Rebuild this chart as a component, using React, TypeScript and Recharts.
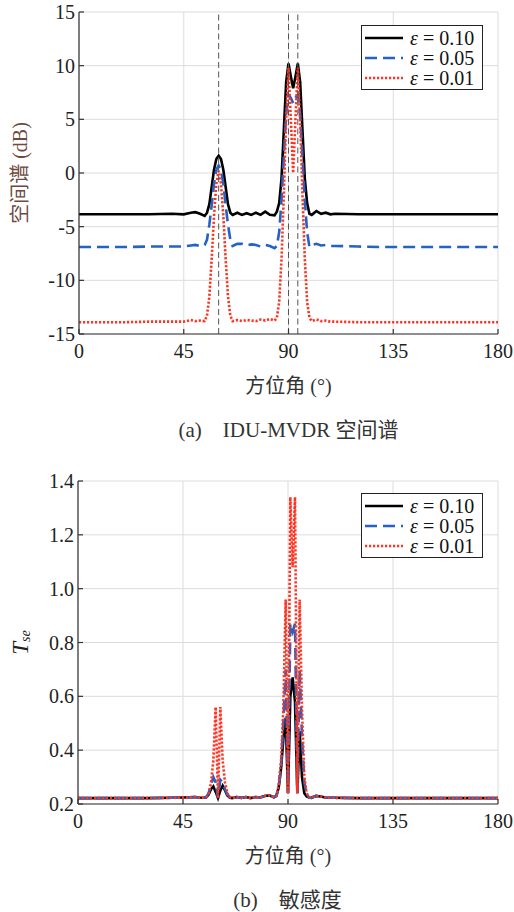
import { LineChart, Line, XAxis, YAxis, CartesianGrid, ReferenceLine, Legend } from 'recharts';

// azimuth sample points (deg), shared by every curve
const angles = [
  0, 10, 20, 30, 40,
  45, 48, 50, 52, 54,
  55, 56, 57, 58, 59, 60, 61, 62, 63, 64, 65, 66,
  68, 70, 72, 74, 76, 78, 80, 82, 84,
  85, 86, 87, 88, 89, 90, 91, 92, 93, 94, 95, 96, 97, 98, 99, 100,
  102, 104, 106, 108, 110,
  120, 130, 140, 150, 160, 170, 180,
];

// (a) spatial spectrum, dB
const specE10 = [
  -3.85, -3.85, -3.85, -3.85, -3.8,
  -3.85, -3.7, -3.65, -3.8, -4.0,
  -3.7, -2.9, -1.3, 0.3, 1.3, 1.6, 1.3, 0.3, -1.3, -2.9, -3.7, -3.9,
  -3.7, -3.9, -3.75, -3.9, -3.7, -3.9, -3.6, -3.9, -3.95,
  -3.6, -2.8, -0.5, 4, 8.5, 10.2, 9, 7.9, 9, 10.2, 8.5, 4, -0.5, -2.8, -3.8, -3.9,
  -3.55, -3.8, -3.7, -3.85, -3.8,
  -3.85, -3.85, -3.85, -3.85, -3.85, -3.85, -3.85,
];
const specE05 = [
  -6.9, -6.9, -6.9, -6.85, -6.85,
  -6.85, -6.75, -6.7, -6.8, -6.7,
  -6.2, -4.8, -3, -1, 0.3, 0.7, 0.3, -1, -3, -4.8, -6.2, -6.8,
  -6.6, -6.6, -6.75, -6.65, -6.7, -6.85, -6.7, -6.8, -7.0,
  -6.8, -5.5, -2.5, 1.5, 5.5, 7.3, 7, 6.5, 7, 7.3, 5.5, 1.5, -2.5, -5.5, -6.9, -6.7,
  -6.6, -6.75, -6.7, -6.8, -6.8,
  -6.85, -6.9, -6.9, -6.9, -6.9, -6.9, -6.9,
];
const specE01 = [
  -13.9, -13.9, -13.9, -13.85, -13.85,
  -13.85, -13.7, -13.8, -13.75, -13.8,
  -13.3, -11.5, -8, -4, -1, 0.2, -1, -4, -8, -11.5, -13.3, -13.8,
  -13.7, -13.8, -13.7, -13.75, -13.8, -13.65, -13.75, -13.6, -13.75,
  -13.5, -12, -8, -2, 5, 9.8, 5, 0, 5, 9.8, 5, -2, -8, -12, -13.5, -13.8,
  -13.65, -13.8, -13.75, -13.85, -13.85,
  -13.9, -13.9, -13.9, -13.9, -13.9, -13.9, -13.9,
];

// (b) sensitivity T_se
const sensE10 = [
  0.222, 0.222, 0.222, 0.222, 0.223,
  0.224, 0.225, 0.226, 0.224, 0.223,
  0.225, 0.235, 0.255, 0.265, 0.245, 0.222, 0.25, 0.268, 0.25, 0.232, 0.224, 0.222,
  0.226, 0.223, 0.226, 0.222, 0.226, 0.224, 0.23, 0.232, 0.225,
  0.23, 0.26, 0.33, 0.44, 0.52, 0.24, 0.6, 0.67, 0.58, 0.24, 0.47, 0.3, 0.24, 0.228, 0.224, 0.223,
  0.23, 0.228, 0.224, 0.223, 0.223,
  0.222, 0.222, 0.222, 0.222, 0.222, 0.222, 0.222,
];
const sensE05 = [
  0.222, 0.222, 0.222, 0.222, 0.223,
  0.224, 0.225, 0.226, 0.224, 0.223,
  0.226, 0.24, 0.27, 0.3, 0.28, 0.222, 0.29, 0.28, 0.255, 0.235, 0.226, 0.222,
  0.226, 0.223, 0.226, 0.222, 0.226, 0.224, 0.23, 0.232, 0.225,
  0.23, 0.26, 0.34, 0.5, 0.7, 0.24, 0.87, 0.84, 0.87, 0.24, 0.7, 0.45, 0.28, 0.235, 0.225, 0.223,
  0.23, 0.228, 0.224, 0.223, 0.223,
  0.222, 0.222, 0.222, 0.222, 0.222, 0.222, 0.222,
];
const sensE01 = [
  0.222, 0.222, 0.222, 0.222, 0.223,
  0.224, 0.225, 0.226, 0.224, 0.223,
  0.226, 0.24, 0.28, 0.36, 0.56, 0.222, 0.56, 0.36, 0.28, 0.24, 0.226, 0.222,
  0.226, 0.223, 0.226, 0.222, 0.226, 0.224, 0.23, 0.232, 0.225,
  0.23, 0.27, 0.36, 0.55, 0.96, 0.24, 1.34, 1.08, 1.34, 0.24, 0.96, 0.55, 0.3, 0.24, 0.226, 0.223,
  0.23, 0.228, 0.224, 0.223, 0.223,
  0.222, 0.222, 0.222, 0.222, 0.222, 0.222, 0.222,
];

const epsLabels = ['0.10', '0.05', '0.01'];
const sourceAngles = [60, 90, 94];
const xTicks = [0, 45, 90, 135, 180];
const specTicks = [-15, -10, -5, 0, 5, 10, 15];
const sensTicks = [0.2, 0.4, 0.6, 0.8, 1.0, 1.2, 1.4];

const SERIF = '"Liberation Serif", "Noto Sans CJK SC"';
const AXIS = '#333';
const GRID = '#dcdcdc';

const lineStyles = [
  { key: 'e10', color: '#000000', width: 2.6, dash: undefined },
  { key: 'e05', color: '#2462c4', width: 2.6, dash: '12 6' },
  { key: 'e01', color: '#ff3322', width: 2.6, dash: '2.2 1.8' },
];

const spectrumRows = angles.map((a, i) => ({ angle: a, e10: specE10[i], e05: specE05[i], e01: specE01[i] }));
const sensRows = angles.map((a, i) => ({ angle: a, e10: sensE10[i], e05: sensE05[i], e01: sensE01[i] }));

function EpsLegend() {
  return (
    <div
      style={{
        width: 122,
        height: 65,
        boxSizing: 'border-box',
        border: '1.2px solid #222',
        background: '#fff',
        fontFamily: SERIF,
        fontSize: 20,
        color: '#111',
        padding: '2px 0 0 3px',
      }}
    >
      {lineStyles.map((s, i) => (
        <div key={s.key} style={{ display: 'flex', alignItems: 'center', height: 20 }}>
          <svg width={38} height={8}>
            <line x1={0} y1={4} x2={38} y2={4} stroke={s.color} strokeWidth={s.width} strokeDasharray={s.dash} />
          </svg>
          <span style={{ marginLeft: 7, whiteSpace: 'nowrap', lineHeight: '19px' }}>
            <i>ε</i> = {epsLabels[i]}
          </span>
        </div>
      ))}
    </div>
  );
}

const SpecLabel = (props: any) => {
  const { viewBox } = props;
  const cx = viewBox.x + 20;
  const cy = viewBox.y + viewBox.height / 2;
  return (
    <text
      transform={`translate(${cx},${cy}) rotate(-90)`}
      textAnchor="middle"
      dominantBaseline="central"
      fontFamily={SERIF}
      fontSize={20}
      fill="#6e4a3e"
    >
      空间谱 (dB)
    </text>
  );
};

const TseLabel = (props: any) => {
  const { viewBox } = props;
  const cx = viewBox.x + 20;
  const cy = viewBox.y + viewBox.height / 2;
  return (
    <text
      transform={`translate(${cx},${cy}) rotate(-90)`}
      textAnchor="middle"
      dominantBaseline="central"
      fontFamily={SERIF}
      fontSize={23}
      fill="#222"
    >
      <tspan fontStyle="italic">T</tspan>
      <tspan fontStyle="italic" fontSize={14} dy={5}>se</tspan>
    </text>
  );
};

type PanelProps = {
  rows: any[];
  yDomain: [number, number];
  yTicks: number[];
  yFormat?: (v: number) => string;
  yLabel: any;
  height: number;
  top: number;
  yAxisWidth: number;
  legendTop: number;
  refs?: number[];
};

function Panel({ rows, yDomain, yTicks, yFormat, yLabel, height, top, yAxisWidth, legendTop, refs }: PanelProps) {
  const tickStyle = { fill: '#222', fontSize: 20, fontFamily: SERIF };
  return (
    <LineChart width={514} height={height} data={rows} margin={{ top, right: 16, bottom: 0, left: 0 }}>
      <CartesianGrid stroke={GRID} strokeWidth={1} />
      <XAxis
        dataKey="angle"
        type="number"
        domain={[0, 180]}
        ticks={xTicks}
        height={66}
        stroke={AXIS}
        strokeWidth={1.2}
        tickSize={-5}
        tickMargin={15}
        tick={tickStyle}
        allowDataOverflow
        label={{ value: '方位角 (°)', position: 'insideBottom', offset: 7, fill: '#333', fontSize: 20, fontFamily: SERIF }}
      />
      <YAxis
        type="number"
        domain={yDomain}
        ticks={yTicks}
        width={yAxisWidth}
        stroke={AXIS}
        strokeWidth={1.2}
        tickSize={-5}
        tickMargin={9}
        tick={tickStyle}
        tickFormatter={yFormat}
        allowDataOverflow
        label={yLabel}
      />
      <XAxis
        xAxisId="top"
        orientation="top"
        type="number"
        domain={[0, 180]}
        ticks={xTicks}
        height={0}
        stroke={AXIS}
        strokeWidth={1.2}
        tickSize={-5}
        tick={false}
        allowDataOverflow
      />
      <YAxis
        yAxisId="right"
        orientation="right"
        type="number"
        domain={yDomain}
        ticks={yTicks}
        width={0}
        stroke={AXIS}
        strokeWidth={1.2}
        tickSize={-5}
        tick={false}
        allowDataOverflow
      />
      {lineStyles.map((s) => (
        <Line
          key={s.key}
          dataKey={s.key}
          type="linear"
          stroke={s.color}
          strokeWidth={s.width}
          strokeDasharray={s.dash}
          dot={false}
          activeDot={false}
          isAnimationActive={false}
        />
      ))}
      {(refs || []).map((a) => (
        <ReferenceLine key={a} x={a} stroke="#555" strokeWidth={1} strokeDasharray="6 3.5" />
      ))}
      <Legend
        layout="vertical"
        verticalAlign="middle"
        align="center"
        wrapperStyle={{ left: 361, top: legendTop, width: 122, height: 65 }}
        content={() => <EpsLegend />}
      />
    </LineChart>
  );
}

const captionStyle: any = {
  position: 'absolute',
  left: 79,
  width: 419,
  textAlign: 'center',
  fontFamily: SERIF,
  fontSize: 21,
  lineHeight: '24px',
  color: '#333',
  whiteSpace: 'pre',
};

export default function App() {
  return (
    <div style={{ position: 'absolute', left: 0, top: 0, width: 514, height: 912, background: '#fff', overflow: 'hidden' }}>
      <div style={{ position: 'absolute', left: 0, top: 0 }}>
        <Panel
          rows={spectrumRows}
          yDomain={[-15, 15]}
          yTicks={specTicks}
          yLabel={<SpecLabel />}
          height={400}
          top={12}
          yAxisWidth={79}
          legendTop={25}
          refs={sourceAngles}
        />
      </div>
      <div style={{ ...captionStyle, top: 418 }}>(a){'\u2003'}IDU-MVDR 空间谱</div>
      <div style={{ position: 'absolute', left: 0, top: 460 }}>
        <Panel
          rows={sensRows}
          yDomain={[0.2, 1.4]}
          yTicks={sensTicks}
          yFormat={(v: number) => v.toFixed(1)}
          yLabel={<TseLabel />}
          height={410}
          top={21}
          yAxisWidth={78}
          legendTop={33}
        />
      </div>
      <div style={{ ...captionStyle, left: 78, top: 888 }}>(b){'\u2003'}敏感度</div>
    </div>
  );
}
